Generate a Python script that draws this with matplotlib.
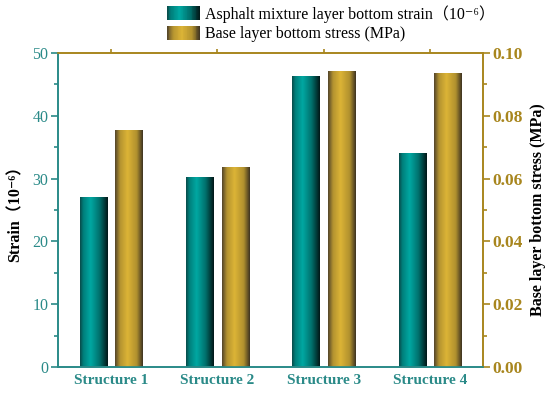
import numpy as np
import matplotlib
matplotlib.use("Agg")
import matplotlib.pyplot as plt
from matplotlib.colors import LinearSegmentedColormap
from matplotlib.patches import Rectangle
from matplotlib.legend_handler import HandlerBase

categories = ["Structure 1", "Structure 2", "Structure 3", "Structure 4"]
strain = [27.0, 30.3, 46.4, 34.0]
stress = [0.0756, 0.0638, 0.0943, 0.0937]
strain_ticks = [0, 10, 20, 30, 40, 50]
stress_ticks = [0.00, 0.02, 0.04, 0.06, 0.08, 0.10]

FAM = ["Liberation Serif", "Noto Sans CJK SC", "DejaVu Sans"]
plt.rcParams["font.family"] = FAM

teal_cmap = LinearSegmentedColormap.from_list(
    "teal", [(0, "#0a4a48"), (0.12, "#007f7b"), (0.38, "#00a8a2"), (0.7, "#00716d"), (1, "#021616")])
gold_cmap = LinearSegmentedColormap.from_list(
    "gold", [(0, "#52442a"), (0.18, "#b49330"), (0.45, "#dcb436"), (0.78, "#b0902e"), (1, "#3c3222")])

TEAL = "#2a8a88"
GOLD = "#a8861e"

fig = plt.figure(figsize=(5.5, 3.98), dpi=100)
ax = fig.add_axes([58 / 550, 31 / 398, 425 / 550, 314 / 398])
ax2 = ax.twinx()

x = np.arange(len(categories))
w = 0.255
off = 0.167

grad = np.linspace(0, 1, 256).reshape(1, -1)


def shade(axis, bars, cmap):
    for b in bars:
        x0, y0 = b.get_x(), b.get_y()
        bw, bh = b.get_width(), b.get_height()
        b.set_facecolor("none")
        b.set_edgecolor("none")
        im = axis.imshow(grad, extent=[x0, x0 + bw, y0, y0 + bh], aspect="auto",
                         cmap=cmap, interpolation="bilinear", zorder=2)
        im.set_clip_path(b)


b1 = ax.bar(x - off, strain, w, zorder=2)
b2 = ax2.bar(x + off, stress, w, zorder=2)
shade(ax, b1, teal_cmap)
shade(ax2, b2, gold_cmap)
ax.set_xlim(-0.5, 3.5)
ax.set_ylim(0, 50)
ax2.set_ylim(0, 0.10)

ax.set_xticks(x)
ax.set_xticklabels(categories, fontweight="bold", color=TEAL, fontsize=11)
ax.tick_params(axis="x", bottom=False, top=True, labelbottom=True, labeltop=False,
               direction="out", length=3, width=1.2, color=GOLD, pad=2)
ax.set_yticks(strain_ticks)
ax.set_yticks(np.arange(5, 50, 10), minor=True)
ax.tick_params(axis="y", colors=TEAL, labelsize=11.5, direction="out", length=5, width=1.2, pad=2)
ax.tick_params(axis="y", which="minor", colors=TEAL, length=3, width=1.2)
ax.set_ylabel("Strain（10⁻⁶）", fontweight="bold", fontsize=11.5, color="black", labelpad=6)

ax2.set_yticks(stress_ticks)
ax2.set_yticklabels([f"{v:.2f}" for v in stress_ticks])
ax2.set_yticks(np.arange(0.01, 0.10, 0.02), minor=True)
ax2.tick_params(axis="y", colors=GOLD, labelsize=12.5, direction="out", length=5, width=1.2, pad=2)
ax2.tick_params(axis="y", which="minor", colors=GOLD, length=3, width=1.2)
for lab in ax2.get_yticklabels():
    lab.set_fontweight("bold")
ax2.set_ylabel("Base layer bottom stress (MPa)", fontweight="bold", fontsize=11.5,
               color="black", labelpad=5)

for a in (ax, ax2):
    a.spines["left"].set_color(TEAL)
    a.spines["bottom"].set_color(TEAL)
    a.spines["right"].set_color(GOLD)
    a.spines["top"].set_color(GOLD)
    for s in a.spines.values():
        s.set_linewidth(1.2)


class GradHandler(HandlerBase):
    def __init__(self, cmap):
        super().__init__()
        self.cmap = cmap

    def create_artists(self, legend, orig_handle, xdescent, ydescent, width, height, fontsize, trans):
        n = 40
        arts = []
        for i in range(n):
            r = Rectangle((-xdescent + width * i / n, -ydescent), width / n * 1.05, height,
                          facecolor=self.cmap((i + 0.5) / n), edgecolor="none", transform=trans)
            arts.append(r)
        return arts


h1 = Rectangle((0, 0), 1, 1)
h2 = Rectangle((0, 0), 1, 1)
fig.legend([h1, h2],
           ["Asphalt mixture layer bottom strain（10⁻⁶）", "Base layer bottom stress (MPa)"],
           handler_map={h1: GradHandler(teal_cmap), h2: GradHandler(gold_cmap)},
           loc="upper left", bbox_to_anchor=(167 / 550, 1 - 5 / 398), frameon=False,
           fontsize=11.5, handlelength=2.05, handleheight=1.0, handletextpad=0.3,
           labelspacing=0.2, borderpad=0, borderaxespad=0)

fig.savefig("out.png", dpi=100)
